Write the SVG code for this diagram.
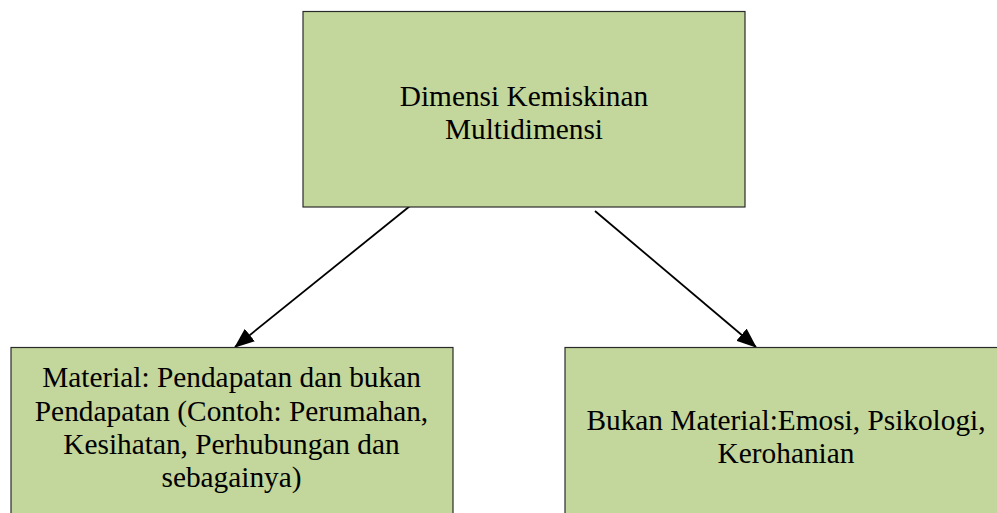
<svg xmlns="http://www.w3.org/2000/svg" width="997" height="513" viewBox="0 0 997 513">
<style>
.box{fill:#C3D69B;stroke:#2b2b2b;stroke-width:1.2}
.t{font-family:"Liberation Serif","Times New Roman",serif;font-size:29.33px;fill:#000;text-anchor:middle}
.conn{stroke:#000;stroke-width:1.8;fill:none;marker-end:url(#ah)}
</style>
<defs>
<marker id="ah" markerUnits="userSpaceOnUse" markerWidth="20" markerHeight="16" viewBox="0 0 20 16" refX="19" refY="8" orient="auto">
<path d="M0,0 L20,8 L0,16 Z" fill="#000"/>
</marker>
</defs>
<g id="connectors">
<line class="conn" x1="410" y1="206" x2="235" y2="347"/>
<line class="conn" x1="595" y1="211" x2="756" y2="347"/>
</g>
<g id="node-top">
<rect class="box" x="303" y="11.5" width="442" height="195.5"/>
<text class="t" x="524" y="106">Dimensi Kemiskinan</text>
<text class="t" x="524" y="139">Multidimensi</text>
</g>
<g id="node-material">
<rect class="box" x="11" y="347.5" width="442" height="175"/>
<text class="t" x="231.5" y="387">Material: Pendapatan dan bukan</text>
<text class="t" x="231.5" y="420.5">Pendapatan (Contoh: Perumahan,</text>
<text class="t" x="231.5" y="453.5">Kesihatan, Perhubungan dan</text>
<text class="t" x="231.5" y="486.7">sebagainya)</text>
</g>
<g id="node-bukan-material">
<rect class="box" x="565" y="347.5" width="445" height="175"/>
<text class="t" x="786" y="429.5">Bukan Material:Emosi, Psikologi,</text>
<text class="t" x="786" y="463">Kerohanian</text>
</g>
</svg>
